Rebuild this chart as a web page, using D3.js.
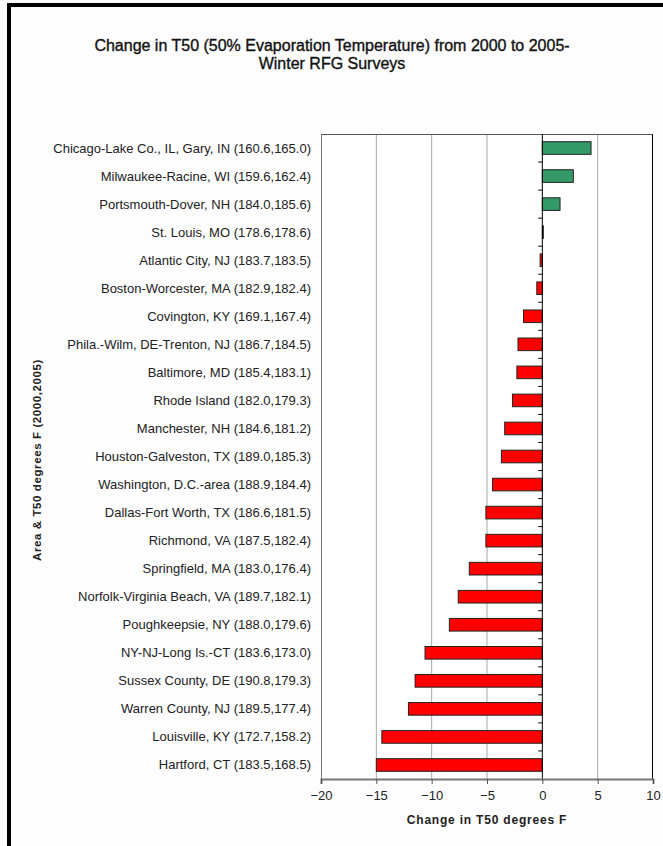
<!DOCTYPE html>
<html>
<head>
<meta charset="utf-8">
<script src="https://cdn.jsdelivr.net/npm/d3@7"></script>
<style>
html,body{margin:0;padding:0;background:#fdfdfd;}
svg{display:block;font-family:"Liberation Sans",Arial,sans-serif;}
</style>
</head>
<body>
<script>
const categories = [
"Chicago-Lake Co., IL, Gary, IN (160.6,165.0)",
"Milwaukee-Racine, WI (159.6,162.4)",
"Portsmouth-Dover, NH (184.0,185.6)",
"St. Louis, MO (178.6,178.6)",
"Atlantic City, NJ (183.7,183.5)",
"Boston-Worcester, MA (182.9,182.4)",
"Covington, KY (169.1,167.4)",
"Phila.-Wilm, DE-Trenton, NJ (186.7,184.5)",
"Baltimore, MD (185.4,183.1)",
"Rhode Island (182.0,179.3)",
"Manchester, NH (184.6,181.2)",
"Houston-Galveston, TX (189.0,185.3)",
"Washington, D.C.-area (188.9,184.4)",
"Dallas-Fort Worth, TX (186.6,181.5)",
"Richmond, VA (187.5,182.4)",
"Springfield, MA (183.0,176.4)",
"Norfolk-Virginia Beach, VA (189.7,182.1)",
"Poughkeepsie, NY (188.0,179.6)",
"NY-NJ-Long Is.-CT (183.6,173.0)",
"Sussex County, DE (190.8,179.3)",
"Warren County, NJ (189.5,177.4)",
"Louisville, KY (172.7,158.2)",
"Hartford, CT (183.5,168.5)"
];
const changes = [4.4, 2.8, 1.6, 0.0, -0.2, -0.5, -1.7, -2.2, -2.3, -2.7, -3.4, -3.7, -4.5, -5.1, -5.1, -6.6, -7.6, -8.4, -10.6, -11.5, -12.1, -14.5, -15.0];
const xTicks = [-20, -15, -10, -5, 0, 5, 10];
const titleLines = ["Change in T50 (50% Evaporation Temperature) from 2000 to 2005-", "Winter RFG Surveys"];
const xTitle = "Change in T50 degrees F";
const yTitle = "Area & T50 degrees F (2000,2005)";

(function () {
const W = 663, H = 846;
const pL = 321, pR = 653, pT = 134, pB = 779;

const svg = d3.select("body").append("svg").attr("width", W).attr("height", H);
svg.append("rect").attr("width", W).attr("height", H).attr("fill", "#fdfdfd");

// frame
svg.append("rect").attr("x", 7).attr("y", 3).attr("width", W - 7).attr("height", 4).attr("fill", "#000");
svg.append("rect").attr("x", 7).attr("y", 3).attr("width", 4).attr("height", H - 3).attr("fill", "#000");

// title
svg.append("text").attr("x", 332).attr("y", 51).attr("text-anchor", "middle")
  .attr("font-size", 16).attr("fill", "#111").attr("stroke", "#111").attr("stroke-width", 0.35)
  .selectAll("tspan").data(titleLines).join("tspan")
  .attr("x", 332).attr("dy", (d, i) => i === 0 ? 0 : 18).text(d => d);

const x = d3.scaleLinear().domain([-20, 10]).range([pL, pR]);
const y = d3.scaleBand().domain(categories).range([pT, pB]).paddingInner(0.55).paddingOuter(0.275);
const yb = d3.scaleBand().domain(categories).range([pT, pB]);

svg.append("rect").attr("x", pL).attr("y", pT).attr("width", pR - pL).attr("height", pB - pT).attr("fill", "#fff");

// gridlines
svg.append("g").selectAll("line").data(xTicks.filter(t => t !== 0 && t !== -20 && t !== 10)).join("line")
  .attr("x1", d => x(d)).attr("x2", d => x(d)).attr("y1", pT).attr("y2", pB)
  .attr("stroke", "#a8a8a8").attr("stroke-width", 1);

// plot border
svg.append("line").attr("x1", pL).attr("x2", pR).attr("y1", pT + 0.5).attr("y2", pT + 0.5).attr("stroke", "#555");
svg.append("line").attr("x1", pR - 0.5).attr("x2", pR - 0.5).attr("y1", pT).attr("y2", pB).attr("stroke", "#000");
svg.append("line").attr("x1", pL + 0.5).attr("x2", pL + 0.5).attr("y1", pT).attr("y2", pB).attr("stroke", "#777");

// bars
svg.append("g").selectAll("rect").data(changes).join("rect")
  .attr("x", d => x(Math.min(0, d)))
  .attr("y", (d, i) => y(categories[i]))
  .attr("width", d => Math.max(1, Math.abs(x(d) - x(0))))
  .attr("height", y.bandwidth())
  .attr("fill", d => d > 0 ? "#339966" : "#ff0000")
  .attr("stroke", "#222").attr("stroke-width", 1);

// zero axis
svg.append("line").attr("x1", x(0)).attr("x2", x(0)).attr("y1", pT).attr("y2", pB).attr("stroke", "#000");
svg.append("g").selectAll("line").data(categories.slice(1)).join("line")
  .attr("x1", x(0) - 4).attr("x2", x(0)).attr("y1", d => yb(d)).attr("y2", d => yb(d))
  .attr("stroke", "#000");

// category labels
svg.append("g").selectAll("text").data(categories).join("text")
  .attr("x", 311).attr("y", d => yb(d) + yb.bandwidth() / 2 + 4.5)
  .attr("text-anchor", "end").attr("font-size", 13).attr("fill", "#222").text(d => d);

// x axis
const xAxis = svg.append("g").attr("transform", `translate(0,${pB})`)
  .call(d3.axisBottom(x).tickValues(xTicks).tickSize(5).tickPadding(7).tickFormat(d3.format("d")));
xAxis.select(".domain").attr("stroke", "#777").attr("stroke-width", 2);
xAxis.selectAll(".tick line").attr("stroke", "#555");
xAxis.selectAll(".tick text").attr("font-size", 13).attr("fill", "#222").attr("font-family", "Liberation Sans, Arial, sans-serif");

// axis titles
svg.append("text").attr("x", 487).attr("y", 824).attr("text-anchor", "middle")
  .attr("font-size", 12).attr("font-weight", "bold").attr("letter-spacing", 0.8).attr("fill", "#222").text(xTitle);
svg.append("text").attr("transform", "translate(41,460) rotate(-90)").attr("text-anchor", "middle")
  .attr("font-size", 11.5).attr("font-weight", "bold").attr("letter-spacing", 0.6).attr("fill", "#222").text(yTitle);
})();
</script>
</body>
</html>
